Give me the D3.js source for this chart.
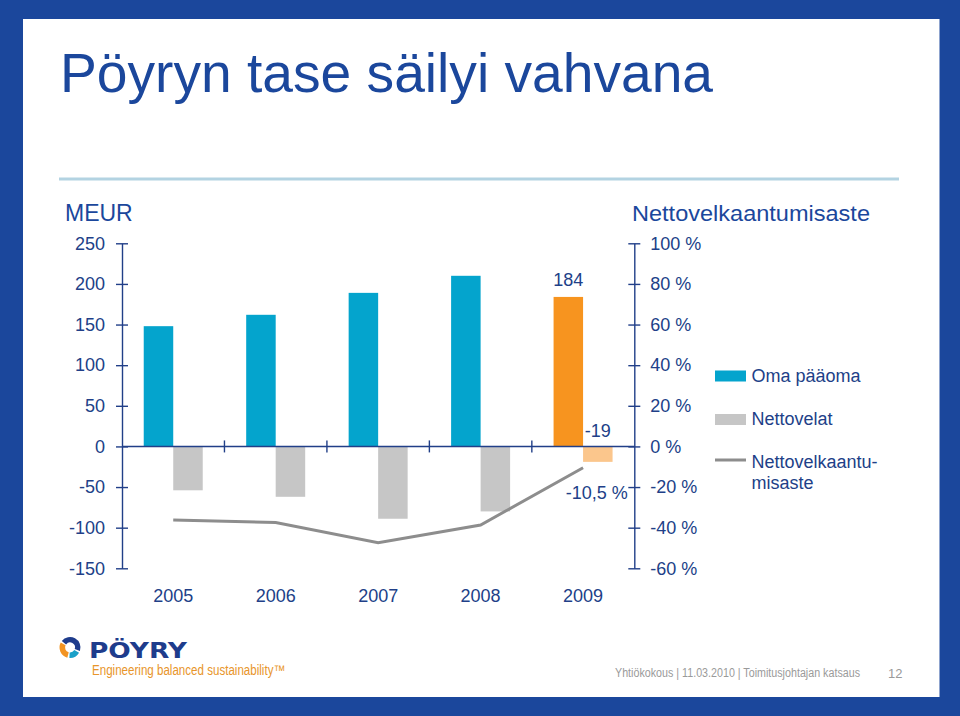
<!DOCTYPE html>
<html>
<head>
<meta charset="utf-8">
<script src="https://cdn.jsdelivr.net/npm/d3@7"></script>
<style>
  body { margin: 0; background: #fff; }
  svg { display: block; font-family: "Liberation Sans", Arial, sans-serif; }
</style>
</head>
<body>
<div id="slide"></div>
<script>
// Pöyry balance sheet slide
var years = ["2005", "2006", "2007", "2008", "2009"];
var equity = [148, 162, 189, 210, 184];       // Oma pääoma, MEUR
var netDebt = [-54, -62, -89, -80, -19];      // Nettovelat, MEUR
var gearing = [-36.2, -37.5, -47.4, -38.7, -10.5]; // Nettovelkaantumisaste, %
var leftTicks = [-150, -100, -50, 0, 50, 100, 150, 200, 250];
var rightTicks = [-60, -40, -20, 0, 20, 40, 60, 80, 100];
var highlightYear = "2009";

var W = 960, H = 716;
var navy = "#213f88";
var frameBlue = "#1b479c";

var svg = d3.select("#slide")
  .append("svg")
  .attr("width", W)
  .attr("height", H);

// frame
svg.append("rect").attr("width", W).attr("height", H).attr("fill", frameBlue);
svg.append("rect")
  .attr("x", 23).attr("y", 19)
  .attr("width", 916.5).attr("height", 678)
  .attr("fill", "#fff");

// title
svg.append("text")
  .attr("x", 60).attr("y", 92)
  .attr("font-size", 56)
  .attr("fill", frameBlue)
  .attr("textLength", 653)
  .attr("lengthAdjust", "spacingAndGlyphs")
  .text("Pöyryn tase säilyi vahvana");

svg.append("line")
  .attr("x1", 59).attr("x2", 899)
  .attr("y1", 179).attr("y2", 179)
  .attr("stroke", "#b3d3e2").attr("stroke-width", 3);

// scales
var x = d3.scaleBand().domain(years).range([122, 634.3]);
var yL = d3.scaleLinear().domain([-150, 250]).range([568.3, 243.3]);
var yR = d3.scaleLinear().domain([-60, 100]).range([568.3, 243.3]);
var bw = 29.5;

// axis titles
svg.append("text")
  .attr("x", 65).attr("y", 221)
  .attr("font-size", 23).attr("fill", frameBlue)
  .text("MEUR");

svg.append("text")
  .attr("x", 632).attr("y", 220.5)
  .attr("font-size", 22).attr("fill", frameBlue)
  .attr("textLength", 238)
  .attr("lengthAdjust", "spacingAndGlyphs")
  .text("Nettovelkaantumisaste");

// left axis
var gL = svg.append("g")
  .attr("transform", "translate(122,0)")
  .call(d3.axisLeft(yL).tickValues(leftTicks)
    .tickFormat(function(d) { return String(d); })
    .tickSizeInner(6).tickSizeOuter(0).tickPadding(11));
gL.selectAll("line").attr("x1", 6);

// right axis
var gR = svg.append("g")
  .attr("transform", "translate(634.3,0)")
  .call(d3.axisRight(yR).tickValues(rightTicks)
    .tickFormat(function(d) { return d + " %"; })
    .tickSizeInner(6).tickSizeOuter(0).tickPadding(10));
gR.selectAll("line").attr("x1", -6);

[gL, gR].forEach(function(g) {
  g.select(".domain").attr("stroke", navy).attr("stroke-width", 1.4);
  g.selectAll("line").attr("stroke", navy).attr("stroke-width", 1.4);
  g.selectAll("text")
    .attr("font-size", 18)
    .attr("fill", navy)
    .attr("font-family", "Liberation Sans, Arial, sans-serif");
});

// bars
var bars = svg.append("g");
bars.selectAll(".equity")
  .data(years)
  .enter()
  .append("rect")
  .attr("class", "equity")
  .attr("x", function(d) { return x(d) + x.bandwidth() / 2 - bw; })
  .attr("y", function(d, i) { return yL(equity[i]); })
  .attr("width", bw)
  .attr("height", function(d, i) { return yL(0) - yL(equity[i]); })
  .attr("fill", function(d) { return d === highlightYear ? "#f7941f" : "#04a4cd"; });

bars.selectAll(".debt")
  .data(years)
  .enter()
  .append("rect")
  .attr("class", "debt")
  .attr("x", function(d) { return x(d) + x.bandwidth() / 2; })
  .attr("y", yL(0))
  .attr("width", bw)
  .attr("height", function(d, i) { return yL(netDebt[i]) - yL(0); })
  .attr("fill", function(d) { return d === highlightYear ? "#fbc68c" : "#c6c6c6"; });

// zero line with category separators
svg.append("line")
  .attr("x1", 122).attr("x2", 634.3)
  .attr("y1", yL(0)).attr("y2", yL(0))
  .attr("stroke", navy).attr("stroke-width", 1.4);

svg.selectAll(".sep")
  .data(years.slice(1))
  .enter()
  .append("line")
  .attr("class", "sep")
  .attr("x1", function(d) { return x(d); })
  .attr("x2", function(d) { return x(d); })
  .attr("y1", yL(0) - 6)
  .attr("y2", yL(0) + 6)
  .attr("stroke", navy).attr("stroke-width", 1.4);

// gearing line
var line = d3.line()
  .x(function(d, i) { return x(years[i]) + x.bandwidth() / 2; })
  .y(function(d) { return yR(d); });

svg.append("path")
  .datum(gearing)
  .attr("d", line)
  .attr("fill", "none")
  .attr("stroke", "#8d8d8d")
  .attr("stroke-width", 3);

// year labels
svg.selectAll(".year")
  .data(years)
  .enter()
  .append("text")
  .attr("class", "year")
  .attr("x", function(d) { return x(d) + x.bandwidth() / 2; })
  .attr("y", 602)
  .attr("text-anchor", "middle")
  .attr("font-size", 18)
  .attr("fill", navy)
  .text(function(d) { return d; });

// value labels for 2009
var last = years.length - 1;
var cx = x(highlightYear) + x.bandwidth() / 2;
svg.append("text")
  .attr("x", cx - bw / 2).attr("y", yL(equity[last]) - 11)
  .attr("text-anchor", "middle").attr("font-size", 18).attr("fill", navy)
  .text(equity[last]);
svg.append("text")
  .attr("x", cx + bw / 2).attr("y", yL(0) - 9)
  .attr("text-anchor", "middle").attr("font-size", 18).attr("fill", navy)
  .text(netDebt[last]);
svg.append("text")
  .attr("x", cx + bw / 2 - 1).attr("y", yR(gearing[last]) + 31)
  .attr("text-anchor", "middle").attr("font-size", 18).attr("fill", navy)
  .text(String(gearing[last]).replace(".", ",") + " %");

// legend
var legend = svg.append("g").attr("transform", "translate(715,0)");
legend.append("rect").attr("x", 0).attr("y", 370.5).attr("width", 31).attr("height", 11).attr("fill", "#04a4cd");
legend.append("rect").attr("x", 0).attr("y", 414).attr("width", 31).attr("height", 11).attr("fill", "#c6c6c6");
legend.append("line").attr("x1", 0).attr("x2", 31).attr("y1", 460).attr("y2", 460)
  .attr("stroke", "#8d8d8d").attr("stroke-width", 3);
var legText = [["Oma pääoma", 382], ["Nettovelat", 425], ["Nettovelkaantu-", 467.5], ["misaste", 489]];
legend.selectAll(".lt")
  .data(legText)
  .enter()
  .append("text")
  .attr("x", 36.5)
  .attr("y", function(d) { return d[1]; })
  .attr("font-size", 18)
  .attr("fill", navy)
  .text(function(d) { return d[0]; });

// footer logo
var logo = svg.append("g").attr("transform", "translate(70,647.5)");
var arc = d3.arc().innerRadius(5).outerRadius(10.5);
logo.append("path").attr("d", arc({startAngle: -0.9, endAngle: 1.9})).attr("fill", "#1e3c8c");
logo.append("path").attr("d", arc({startAngle: 2.1, endAngle: 3.2})).attr("fill", "#1aa0c8");
logo.append("path").attr("d", arc({startAngle: 3.4, endAngle: 5.2})).attr("fill", "#f29423");

svg.append("text")
  .attr("x", 89).attr("y", 657.5)
  .attr("font-size", 21).attr("font-weight", "bold")
  .attr("font-family", "DejaVu Sans, sans-serif")
  .attr("fill", "#1e3c8c")
  .attr("textLength", 98).attr("lengthAdjust", "spacingAndGlyphs")
  .text("PÖYRY");

svg.append("text")
  .attr("x", 92).attr("y", 675)
  .attr("font-size", 14)
  .attr("fill", "#e8952a")
  .attr("textLength", 193).attr("lengthAdjust", "spacingAndGlyphs")
  .text("Engineering balanced sustainability™");

svg.append("text")
  .attr("x", 615).attr("y", 677)
  .attr("font-size", 12)
  .attr("fill", "#9a9a9a")
  .attr("textLength", 245).attr("lengthAdjust", "spacingAndGlyphs")
  .text("Yhtiökokous | 11.03.2010 | Toimitusjohtajan katsaus");

svg.append("text")
  .attr("x", 888).attr("y", 677.5)
  .attr("font-size", 13)
  .attr("fill", "#9a9a9a")
  .text("12");
</script>
</body>
</html>
